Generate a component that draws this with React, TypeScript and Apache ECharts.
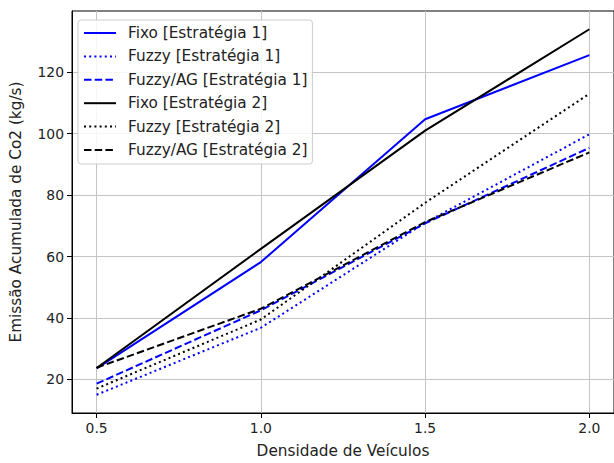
import React, { useEffect, useRef } from "react";
import * as echarts from "echarts";

const densities = [0.5, 1.0, 1.5, 2.0];
const fixoE1 = [23.6, 58.2, 104.7, 125.6];
const fuzzyE1 = [15.0, 36.8, 71.0, 99.8];
const fuzzyAgE1 = [18.6, 42.5, 70.8, 95.4];
const fixoE2 = [23.7, 62.5, 101.0, 134.0];
const fuzzyE2 = [17.0, 39.5, 77.5, 113.0];
const fuzzyAgE2 = [23.8, 43.0, 71.2, 93.9];

const xTicks = [0.5, 1.0, 1.5, 2.0];
const yTicks = [20, 40, 60, 80, 100, 120];

const seriesDefs = [
  { name: "Fixo [Estratégia 1]", values: fixoE1, color: "#0000ff", type: "solid" },
  { name: "Fuzzy [Estratégia 1]", values: fuzzyE1, color: "#0000ff", type: "dotted" },
  { name: "Fuzzy/AG [Estratégia 1]", values: fuzzyAgE1, color: "#0000ff", type: "dashed" },
  { name: "Fixo [Estratégia 2]", values: fixoE2, color: "#000000", type: "solid" },
  { name: "Fuzzy [Estratégia 2]", values: fuzzyE2, color: "#000000", type: "dotted" },
  { name: "Fuzzy/AG [Estratégia 2]", values: fuzzyAgE2, color: "#000000", type: "dashed" },
];

const FONT = "DejaVu Sans";
const TICK_FS = 13.9;
const LABEL_FS = 15.3;

export default function App() {
  const ref = useRef<HTMLDivElement>(null);
  useEffect(() => {
    const chart = echarts.init(ref.current!, null, { renderer: "svg" });
    const all = seriesDefs.flatMap((s) => s.values);
    const yMinD = Math.min(...all);
    const yMaxD = Math.max(...all);
    const yr = yMaxD - yMinD;
    const xMinD = Math.min(...densities);
    const xMaxD = Math.max(...densities);
    const xr = xMaxD - xMinD;
    const dashFor = (t: string) =>
      t === "dotted" ? [2, 3.2] : t === "dashed" ? [7.5, 3.2] : "solid";
    chart.setOption({
      animation: false,
      backgroundColor: "#ffffff",
      textStyle: { fontFamily: FONT },
      grid: {
        left: 71,
        top: 11,
        width: 544,
        height: 407,
        show: true,
        borderColor: "#000000",
        borderWidth: 1,
        backgroundColor: "transparent",
      },
      legend: {
        orient: "vertical",
        left: 78,
        top: 20,
        itemWidth: 32,
        itemHeight: 10,
        itemGap: 5.4,
        padding: [4, 5, 5, 5],
        backgroundColor: "rgba(255,255,255,0.85)",
        borderColor: "#cccccc",
        borderWidth: 1,
        borderRadius: 3,
        itemStyle: { opacity: 0 },
        textStyle: {
          fontFamily: FONT,
          fontSize: LABEL_FS,
          color: "#222222",
          lineHeight: 18,
          padding: [0, 0, 0, 7],
        },
        data: seriesDefs.map((s) => s.name),
      },
      xAxis: {
        type: "value",
        min: xMinD - 0.05 * xr,
        max: xMaxD + 0.05 * xr,
        name: "Densidade de Veículos",
        nameLocation: "middle",
        nameGap: 30,
        nameTextStyle: { fontFamily: FONT, fontSize: LABEL_FS, color: "#222222" },
        axisLine: { show: true, onZero: false, lineStyle: { color: "#000000", width: 1 } },
        axisTick: {
          show: true,
          length: 5,
          customValues: xTicks,
          lineStyle: { color: "#000000" },
        },
        axisLabel: {
          customValues: xTicks,
          margin: 8,
          fontFamily: FONT,
          fontSize: TICK_FS,
          color: "#222222",
          formatter: (v: number) => v.toFixed(1),
        },
        splitLine: { show: true, lineStyle: { color: "#c4c4c4", width: 1 } },
      },
      yAxis: {
        type: "value",
        min: yMinD - 0.05 * yr,
        max: yMaxD + 0.05 * yr,
        name: "Emissão Acumulada de Co2 (kg/s)",
        nameLocation: "middle",
        nameGap: 49,
        nameTextStyle: { fontFamily: FONT, fontSize: LABEL_FS, color: "#222222" },
        axisLine: { show: true, onZero: false, lineStyle: { color: "#000000", width: 1 } },
        axisTick: {
          show: true,
          length: 5,
          customValues: yTicks,
          lineStyle: { color: "#000000" },
        },
        axisLabel: {
          customValues: yTicks,
          margin: 8,
          fontFamily: FONT,
          fontSize: TICK_FS,
          color: "#222222",
          formatter: (v: number) => String(Math.round(v)),
        },
        splitLine: { show: true, lineStyle: { color: "#c4c4c4", width: 1 } },
      },
      series: seriesDefs.map((s) => ({
        name: s.name,
        type: "line",
        symbol: "none",
        showSymbol: false,
        data: densities.map((d, i) => [d, s.values[i]]),
        lineStyle: { color: s.color, width: 2, type: dashFor(s.type) },
        itemStyle: { color: s.color },
        color: s.color,
        emphasis: { disabled: true },
      })),
    });
    return () => chart.dispose();
  }, []);
  return (
    <div
      ref={ref}
      style={{ position: "fixed", left: 0, top: 0, width: 614, height: 463 }}
    />
  );
}
